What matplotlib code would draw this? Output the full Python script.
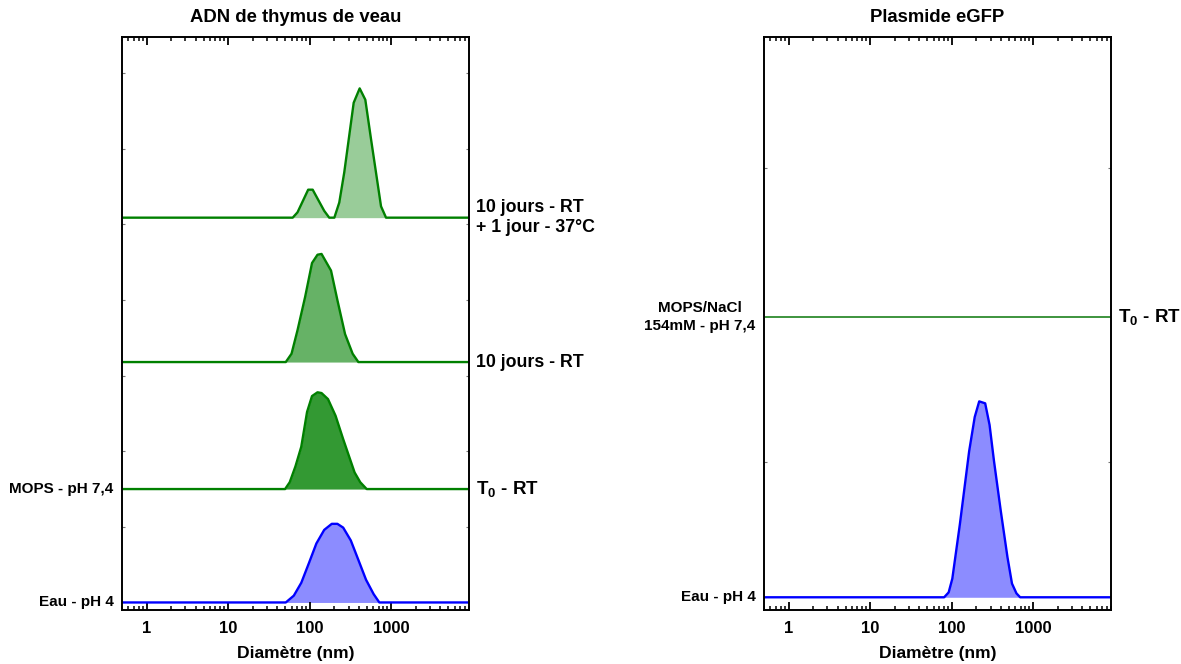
import matplotlib
matplotlib.use("Agg")
import matplotlib.pyplot as plt
from matplotlib.ticker import LogLocator, FixedLocator, FixedFormatter, NullFormatter

plt.rcParams['font.family'] = ['Liberation Sans', 'DejaVu Sans']
plt.rcParams['font.weight'] = 'bold'
plt.rcParams['mathtext.fontset'] = 'custom'
plt.rcParams['mathtext.rm'] = 'Liberation Sans:bold'
plt.rcParams['mathtext.bf'] = 'Liberation Sans:bold'
plt.rcParams['mathtext.it'] = 'Liberation Sans:bold'

# ---- données (diamètre en nm, intensité en %) ----
# ADN de thymus de veau
d_eau = [0.4, 51, 64, 79, 98, 121, 151, 187, 219, 258, 320, 397, 492, 610, 716, 10000]
i_eau = [0, 0, 0.9, 2.6, 5.2, 7.8, 9.6, 10.4, 10.4, 9.9, 8.2, 5.6, 3.0, 1.1, 0, 0]

d_t0 = [0.4, 50, 57, 67, 79, 93, 107, 125, 140, 168, 208, 258, 303, 356, 418, 501, 10000]
i_t0 = [0, 0, 0.9, 3.0, 5.6, 10.2, 12.3, 12.8, 12.7, 11.9, 9.7, 6.6, 4.4, 2.2, 0.9, 0, 0]

d_10j = [0.4, 51, 60, 71, 88, 107, 125, 140, 183, 219, 272, 337, 396, 10000]
i_10j = [0, 0, 1.1, 4.2, 8.6, 13.1, 14.2, 14.3, 12.1, 8.2, 3.7, 1.1, 0, 0]

d_10j37 = [0.4, 62, 71, 96, 109, 151, 174, 201, 231, 266, 347, 411, 482, 566, 751, 865, 10000]
i_10j37 = [0, 0, 0.7, 3.7, 3.7, 0.9, 0, 0, 2.0, 6.0, 15.2, 17.1, 15.6, 10.4, 1.5, 0, 0]

# Plasmide eGFP
d_pl_eau = [0.4, 81, 92, 102, 126, 164, 192, 218, 258, 292, 331, 401, 484, 550, 624, 693, 10000]
i_pl_eau = [0, 0, 0.5, 1.9, 7.4, 14.9, 18.4, 20, 19.8, 17.6, 13.9, 8.8, 4.1, 1.4, 0.4, 0, 0]

d_pl_mops = [0.4, 10000]
i_pl_mops = [0, 0]

fig = plt.figure(figsize=(11.81, 6.64), dpi=100)
ax1 = fig.add_axes([0.1033, 0.0813, 0.2938, 0.863])
ax2 = fig.add_axes([0.6469, 0.0813, 0.2938, 0.863])

GREEN = '#008000'
BLUE = '#0000ff'


def trace(ax, d, i, off, fill, edge, lw=1.7):
    y = [off + v for v in i]
    ax.fill_between(d, off, y, color=fill, lw=0)
    ax.plot(d, y, color=edge, lw=lw, solid_joinstyle='round')


# ---- Graphique 1 ----
trace(ax1, d_eau, i_eau, 0, '#8c8cff', BLUE)
trace(ax1, d_t0, i_t0, 15, '#339933', GREEN)
trace(ax1, d_10j, i_10j, 31.8, '#66b266', GREEN)
trace(ax1, d_10j37, i_10j37, 50.9, '#99cc99', GREEN)
ax1.set_ylim(-1, 74.8)
ax1.set_yticks(range(0, 80, 10))

# ---- Graphique 2 ----
trace(ax2, d_pl_eau, i_pl_eau, -13.8, '#8c8cff', BLUE)
trace(ax2, d_pl_mops, i_pl_mops, 14.8, '#2e8b2e', '#2e8b2e', lw=1.3)
ax2.set_ylim(-15.1, 43.4)
ax2.set_yticks([0, 30])

for ax, title in [(ax1, "ADN de thymus de veau"), (ax2, "Plasmide eGFP")]:
    ax.set_xscale('log')
    ax.set_xlim(0.5, 9000)
    ax.xaxis.set_major_locator(FixedLocator([1, 10, 100, 1000]))
    ax.xaxis.set_major_formatter(FixedFormatter(['1', '10', '100', '1000']))
    ax.xaxis.set_minor_locator(LogLocator(base=10, subs=range(2, 10), numticks=20))
    ax.xaxis.set_minor_formatter(NullFormatter())
    ax.tick_params(axis='x', which='major', direction='in', top=True, length=6,
                   width=1.3, labelsize=12, pad=8)
    ax.tick_params(axis='x', which='minor', direction='in', top=True, length=3, width=1.1)
    ax.tick_params(axis='y', which='major', direction='in', left=True, right=True,
                   length=2, width=0.8, color='#777777', labelleft=False)
    for sp in ax.spines.values():
        sp.set_linewidth(1.4)
    ax.set_title(title, fontsize=13.3, fontweight='bold', pad=11)
    ax.set_xlabel("Diamètre (nm)", fontsize=12.6, fontweight='bold', labelpad=7)


def label_left(ax, txt, y):
    ax.annotate(txt, xy=(0, y), xycoords=('axes fraction', 'data'), xytext=(-6, 0),
                textcoords='offset points', ha='right', va='center', fontsize=11,
                fontweight='bold', multialignment='center', linespacing=1.3)


def label_right(ax, txt, y, size=12.8):
    ax.annotate(txt, xy=(1, y), xycoords=('axes fraction', 'data'), xytext=(5, 0),
                textcoords='offset points', ha='left', va='center', fontsize=size,
                fontweight='bold', linespacing=1.25)


label_left(ax1, "MOPS - pH 7,4", 15)
label_left(ax1, "Eau - pH 4", 0)
label_right(ax1, "10 jours - RT\n+ 1 jour - 37°C", 50.9)
label_right(ax1, "10 jours - RT", 31.8)
label_right(ax1, r"T$_\mathbf{0}$ - RT", 15, size=13.5)

label_left(ax2, "MOPS/NaCl\n154mM - pH 7,4", 14.8)
label_left(ax2, "Eau - pH 4", -13.8)
label_right(ax2, r"T$_\mathbf{0}$ - RT", 14.8, size=13.5)

fig.savefig("out.png", dpi=100)
